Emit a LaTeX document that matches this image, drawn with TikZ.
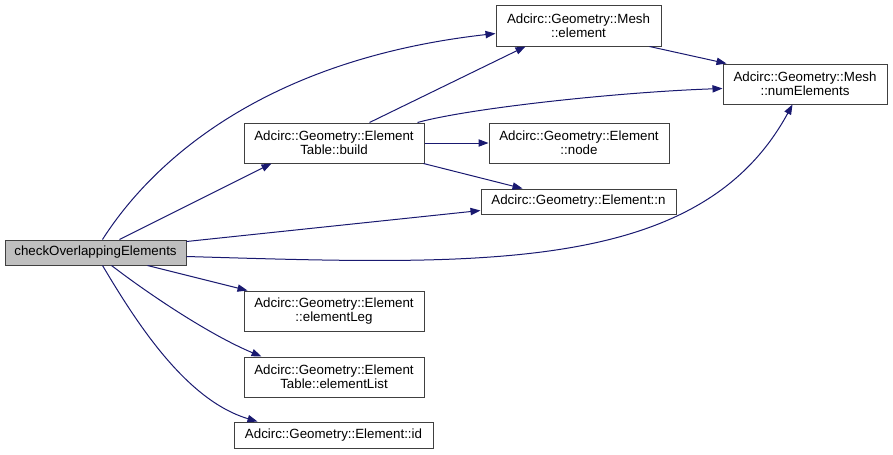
\documentclass[tikz,border=0pt]{standalone}
\usepackage{fontspec}
\setmainfont{Liberation Sans}
\usetikzlibrary{arrows.meta,calc}
\definecolor{edgeblue}{HTML}{191970}
\definecolor{boxgray}{HTML}{BFBFBF}
\definecolor{boxline}{HTML}{404040}
\tikzset{
  fn/.style 2 args={draw=boxline, line width=0.75pt, fill=white, inner sep=0pt,
    minimum width=#1*0.75pt, minimum height=#2*0.75pt, align=center,
    font=\fontsize{10}{10.5}\selectfont},
  call/.style={draw=edgeblue, line width=0.75pt,
    -{Triangle[length=7.5pt,width=5.5pt,fill=edgeblue]}},
}
\begin{document}
\begin{tikzpicture}[x=0.75pt,y=-0.75pt]
\useasboundingbox (0,0) rectangle (893,454);
% nodes
\node[fn={181}{25}, fill=boxgray] (check) at (95.5,252.5) {checkOverlappingElements};
\node[fn={180}{40}] (build) at (334,143) {Adcirc::Geometry::Element\\Table::build};
\node[fn={165}{41}] (mel) at (578.5,25.5) {Adcirc::Geometry::Mesh\\::element};
\node[fn={164}{40}] (num) at (805,84) {Adcirc::Geometry::Mesh\\::numElements};
\node[fn={180}{40}] (nod) at (579,143) {Adcirc::Geometry::Element\\::node};
\node[fn={195}{25}] (nn) at (578.5,201.5) {Adcirc::Geometry::Element::n};
\node[fn={180}{40}] (leg) at (334,311) {Adcirc::Geometry::Element\\::elementLeg};
\node[fn={180}{40}] (list) at (334,377) {Adcirc::Geometry::Element\\Table::elementList};
\node[fn={199}{26}] (eid) at (333.5,435) {Adcirc::Geometry::Element::id};
% edges from check
\draw[call] ($(check.north west)+(98,0)$) .. controls (150,165) and (260,60) .. ($(mel.north west)+(0,29)$);
\draw[call] ($(check.north west)+(115,0)$) -- ($(build.south west)+(28,0)$);
\draw[call] ($(check.north east)+(0,2)$) -- ($(nn.south west)+(0,-4)$);
\draw[call] ($(check.north east)+(0,17)$) .. controls (480,265) and (700,275) .. ($(num.south west)+(70,0)$);
\draw[call] ($(check.south west)+(143,0)$) -- ($(leg.north west)+(4,0)$);
\draw[call] ($(check.south west)+(107,0)$) .. controls (150,295) and (210,335) .. ($(list.north west)+(18,0)$);
\draw[call] ($(check.south west)+(98,0)$) .. controls (135,320) and (185,400) .. ($(eid.north west)+(24,0)$);
% edges from build
\draw[call] ($(build.north west)+(126,0)$) -- ($(mel.south west)+(30,0)$);
\draw[call] ($(build.north west)+(174,0)$) .. controls (470,108) and (620,92) .. ($(num.north west)+(0,25)$);
\draw[call] (build.east) -- (nod.west);
\draw[call] ($(build.south east)+(-1,0)$) -- ($(nn.north west)+(42,0)$);
% mesh element -> numElements
\draw[call] ($(mel.south west)+(154,0)$) -- ($(num.north west)+(4,0)$);
\end{tikzpicture}
\end{document}
